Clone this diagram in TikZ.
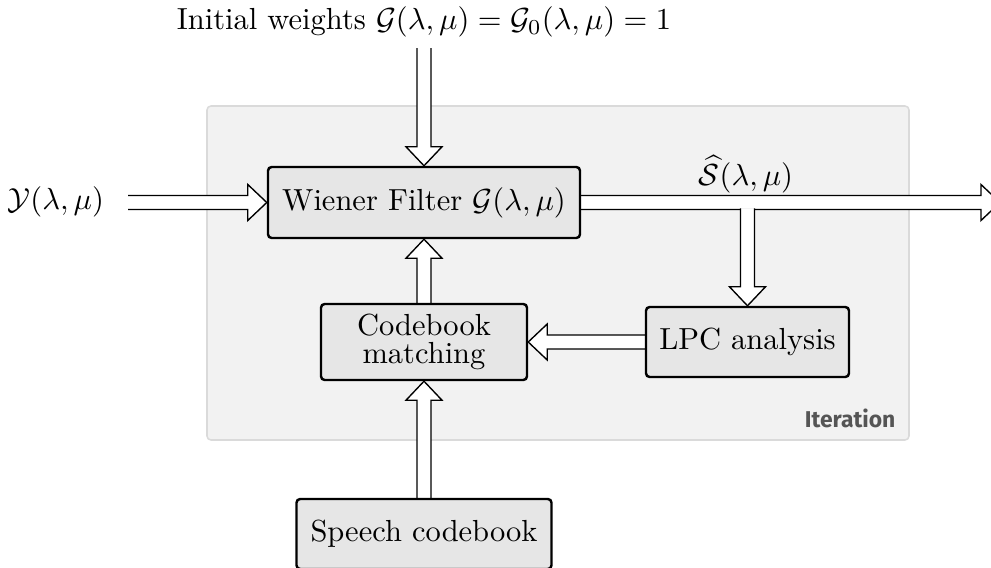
\documentclass[tikz,border=0pt]{standalone}
\usepackage{fontspec}
\usetikzlibrary{calc}
\newfontfamily\tagfont{Fira Sans}
\newdimen\pxu \pxu=0.328pt
\newdimen\shaftw \shaftw=7\pxu
\newdimen\headw \headw=18\pxu
\newdimen\headl \headl=19\pxu
\definecolor{boxfill}{HTML}{E6E6E6}
\definecolor{panelfill}{HTML}{F2F2F2}
\definecolor{paneledge}{HTML}{DADADA}
\definecolor{tagtext}{HTML}{555555}
\pgfdeclarelayer{panel}
\pgfdeclarelayer{links}
\pgfsetlayers{panel,links,main}
\tikzset{
  block/.style={draw=black, line width=0.8pt, fill=boxfill, rounded corners=1.2pt,
    inner sep=0pt, align=center},
  panel/.style={draw=paneledge, line width=0.5pt, fill=panelfill, rounded corners=1.3pt},
  % block arrow: shaft and open head, left open at its start
  hollow/.style={draw=black, fill=white, line width=0.45pt, line join=miter,
    to path={let \p1=(\tikztostart), \p2=(\tikztotarget), \p3=($(\p2)!\headl!(\p1)$) in
      ($(\p1)!\shaftw!90:(\p2)$) -- ($(\p3)!\shaftw!90:(\p2)$) -- ($(\p3)!\headw!90:(\p2)$)
      -- (\p2) -- ($(\p3)!\headw!-90:(\p2)$) -- ($(\p3)!\shaftw!-90:(\p2)$)
      -- ($(\p1)!\shaftw!-90:(\p2)$)}},
}
\begin{document}
\begin{tikzpicture}[x=\pxu, y=-\pxu]
\useasboundingbox (0,0) rectangle (991,568);

% iteration panel
\begin{pgfonlayer}{panel}
\node[panel, minimum width=702*\pxu, minimum height=334*\pxu] (iter) at (558,273) {};
\end{pgfonlayer}
\node[anchor=base east, inner sep=0pt, text=tagtext, font=\tagfont\bfseries\fontsize{7.5}{9}\selectfont]
  (itertag) at (896,427) {Iteration};

% processing blocks
\node[block, minimum width=312*\pxu, minimum height=71*\pxu] (wiener) at (424,202.5)
  {Wiener Filter $\mathcal{G}(\lambda,\mu)$};
\node[block, minimum width=206*\pxu, minimum height=76*\pxu,
      font=\fontsize{10}{9.1}\selectfont] (codebook) at (424,342) {Codebook\\matching};
\node[block, minimum width=203*\pxu, minimum height=70*\pxu] (lpc) at (747.5,342) {LPC analysis};
\node[block, minimum width=255*\pxu, minimum height=70*\pxu] (speech) at (424,534) {Speech codebook};

% signal labels
\node[anchor=base west, inner sep=0pt] (yin) at (7,210) {$\mathcal{Y}(\lambda,\mu)$};
\node[anchor=base, inner sep=0pt] (init) at (424,30)
  {Initial weights $\mathcal{G}(\lambda,\mu)=\mathcal{G}_0(\lambda,\mu)=1$};
\node[anchor=base, inner sep=0pt] (shat) at (746,185) {$\widehat{\mathcal{S}}(\lambda,\mu)$};

% free ends of the connectors
\coordinate (src) at (128,202.5);
\coordinate (top) at (424,48);
\coordinate (out) at (1000,202.5);
\coordinate (split) at (747.5,208.3);

\begin{pgfonlayer}{links}
\draw[hollow] (src) to (wiener.west);
\draw[hollow] (top) to (wiener.north);
\draw[hollow] (wiener.east) to (out);
\draw[hollow] (split) to (lpc.north);
\draw[hollow] (lpc.west) to (codebook.east);
\draw[hollow] (codebook.north) to (wiener.south);
\draw[hollow] (speech.north) to (codebook.south);
\end{pgfonlayer}
\end{tikzpicture}
\end{document}
